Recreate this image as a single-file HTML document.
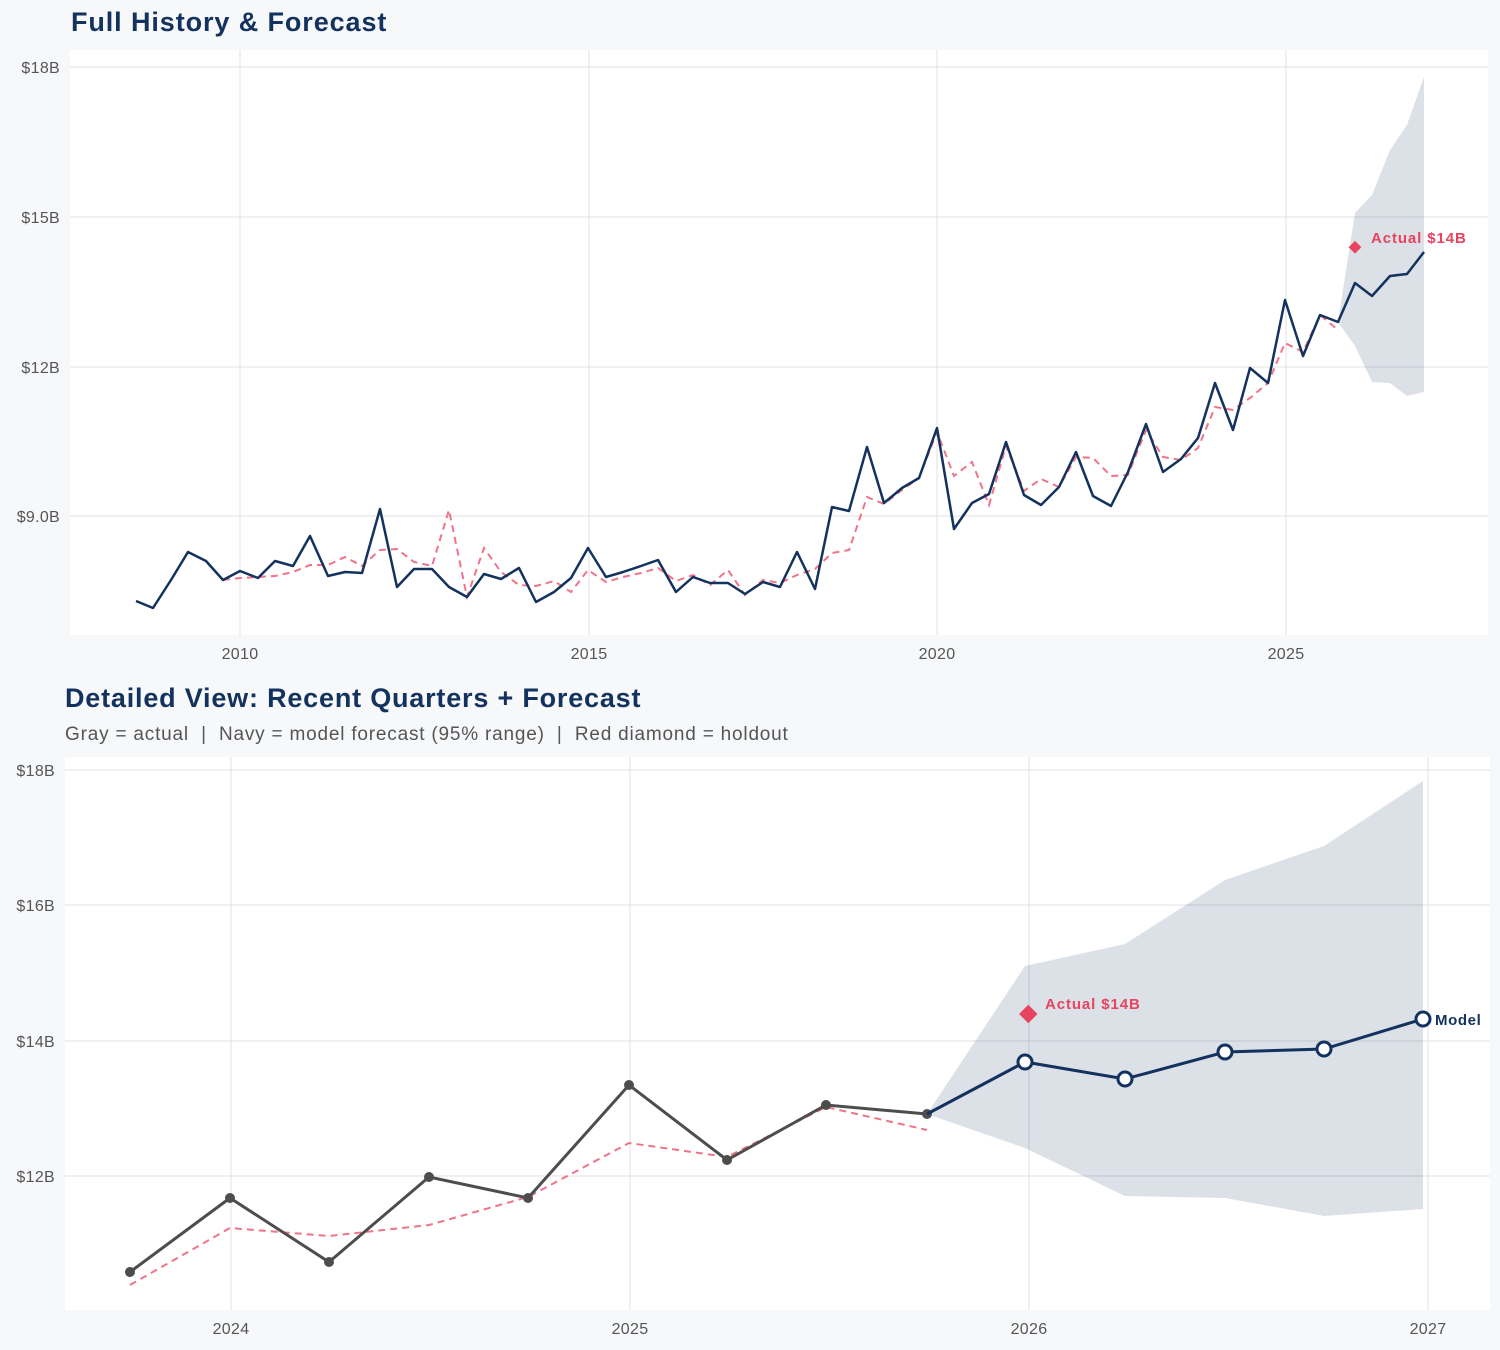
<!DOCTYPE html>
<html><head><meta charset="utf-8"><style>
body{margin:0;background:#f7f8fa;}
svg{display:block;font-family:"Liberation Sans",sans-serif;}
</style></head><body>
<svg width="1500" height="1350" xmlns="http://www.w3.org/2000/svg">
<rect width="1500" height="1350" fill="#f7f8fa"/>
<text x="71" y="31" font-size="27" font-weight="bold" letter-spacing="0.9" fill="#13325e">Full History &amp; Forecast</text>
<rect x="70" y="50" width="1418" height="585" fill="#fff"/>
<g stroke="#e0e0e0" stroke-width="1">
<line x1="70" x2="1488" y1="67" y2="67"/><line x1="70" x2="1488" y1="217" y2="217"/><line x1="70" x2="1488" y1="367" y2="367"/><line x1="70" x2="1488" y1="516" y2="516"/>
<line x1="240" x2="240" y1="50" y2="635"/><line x1="589" x2="589" y1="50" y2="635"/><line x1="937" x2="937" y1="50" y2="635"/><line x1="1286" x2="1286" y1="50" y2="635"/>
</g>
<g font-size="16" fill="#555" text-anchor="end" letter-spacing="0.3">
<text x="60" y="73">$18B</text><text x="60" y="223">$15B</text><text x="60" y="373">$12B</text><text x="60" y="522">$9.0B</text>
</g>
<g font-size="16" fill="#555" text-anchor="middle" letter-spacing="0.3">
<text x="240" y="659">2010</text><text x="589" y="659">2015</text><text x="937" y="659">2020</text><text x="1286" y="659">2025</text>
</g>
<polygon fill="#13325e" fill-opacity="0.15" points="1338,322 1355,213 1372,195 1390,150 1407,125 1424,77 1424,392 1407,396 1390,383 1372,382 1355,346"/>
<polyline fill="none" stroke="#ef7489" stroke-width="2" stroke-dasharray="7,5" points="223,580 240,578 258,577 275,576 293,572 310,565 328,565 345,557 362,566 380,550 397,549 414,562 432,566 449,510 467,597 484,548 501,572 519,585 536,586 554,581 571,592 588,570 606,582 623,577 641,573 658,568 676,581 693,575 710,585 728,570 745,595 763,580 780,583 797,575 815,569 832,553 849,550 867,497 884,504 902,490 919,478 937,432 954,476 972,462 989,505 1006,446 1024,491 1041,479 1059,487 1076,457 1093,458 1111,476 1128,475 1146,430 1163,457 1181,460 1198,448 1215,407 1233,410 1250,398 1268,383 1285,343 1303,352 1320,315 1338,330"/>
<polyline fill="none" stroke="#13325e" stroke-width="2.5" stroke-linejoin="round" points="136,601 153,608 171,580 188,552 206,561 223,580 240,571 258,578 275,561 293,566 310,536 328,576 345,572 362,573 380,509 397,587 414,569 432,569 449,587 467,597 484,574 501,579 519,568 536,602 554,592 571,578 588,548 606,577 623,572 641,566 658,560 676,592 693,577 710,583 728,583 745,594 763,582 780,587 797,552 815,589 832,507 849,511 867,447 884,503 902,488 919,478 937,428 954,529 972,503 989,494 1006,442 1024,495 1041,505 1059,487 1076,452 1093,496 1111,506 1128,472 1146,424 1163,472 1181,459 1198,438 1215,383 1233,430 1250,368 1268,383 1285,300 1303,356 1320,315 1338,322 1355,283 1372,296 1390,276 1407,274 1424,252"/>
<rect x="1350" y="243" width="9" height="9" fill="#e8435f" transform="rotate(45 1355 248)"/>
<text x="1371" y="243" font-size="15" font-weight="bold" letter-spacing="0.9" fill="#e8435f">Actual $14B</text>

<text x="65" y="707" font-size="27" font-weight="bold" letter-spacing="0.8" fill="#13325e">Detailed View: Recent Quarters + Forecast</text>
<text x="65" y="740" font-size="19" letter-spacing="0.8" fill="#555" xml:space="preserve">Gray = actual  |  Navy = model forecast (95% range)  |  Red diamond = holdout</text>
<rect x="65" y="757" width="1425" height="553" fill="#fff"/>
<g stroke="#e0e0e0" stroke-width="1">
<line x1="65" x2="1490" y1="770" y2="770"/><line x1="65" x2="1490" y1="905" y2="905"/><line x1="65" x2="1490" y1="1041" y2="1041"/><line x1="65" x2="1490" y1="1176" y2="1176"/>
<line x1="231" x2="231" y1="757" y2="1310"/><line x1="630" x2="630" y1="757" y2="1310"/><line x1="1029" x2="1029" y1="757" y2="1310"/><line x1="1428" x2="1428" y1="757" y2="1310"/>
</g>
<g font-size="16" fill="#555" text-anchor="end" letter-spacing="0.3">
<text x="55" y="776">$18B</text><text x="55" y="911">$16B</text><text x="55" y="1047">$14B</text><text x="55" y="1182">$12B</text>
</g>
<g font-size="16" fill="#555" text-anchor="middle" letter-spacing="0.3">
<text x="231" y="1334">2024</text><text x="630" y="1334">2025</text><text x="1029" y="1334">2026</text><text x="1428" y="1334">2027</text>
</g>
<polygon fill="#13325e" fill-opacity="0.15" points="927,1114 1025,966 1125,944 1225,880 1324,846 1423,781 1423,1209 1324,1216 1225,1198 1125,1196 1025,1148"/>
<polyline fill="none" stroke="#ef7489" stroke-width="2" stroke-dasharray="7,5" points="130,1285 230,1228 329,1236 429,1225 528,1197 629,1143 727,1157 826,1107 927,1130"/>
<polyline fill="none" stroke="#4d4d4d" stroke-width="3" points="130,1272 230,1198 329,1262 429,1177 528,1198 629,1085 727,1160 826,1105 927,1114"/>
<g fill="#4d4d4d"><circle cx="130" cy="1272" r="5"/><circle cx="230" cy="1198" r="5"/><circle cx="329" cy="1262" r="5"/><circle cx="429" cy="1177" r="5"/><circle cx="528" cy="1198" r="5"/><circle cx="629" cy="1085" r="5"/><circle cx="727" cy="1160" r="5"/><circle cx="826" cy="1105" r="5"/><circle cx="927" cy="1114" r="5"/></g>
<polyline fill="none" stroke="#13325e" stroke-width="3" points="927,1114 1025,1062 1125,1079 1225,1052 1324,1049 1423,1019"/>
<g fill="#fff" stroke="#13325e" stroke-width="3"><circle cx="1025" cy="1062" r="7"/><circle cx="1125" cy="1079" r="7"/><circle cx="1225" cy="1052" r="7"/><circle cx="1324" cy="1049" r="7"/><circle cx="1423" cy="1019" r="7"/></g>
<rect x="1022" y="1008" width="13" height="13" fill="#e8435f" transform="rotate(45 1029 1014)"/>
<text x="1045" y="1009" font-size="15" font-weight="bold" letter-spacing="0.9" fill="#e8435f">Actual $14B</text>
<text x="1435" y="1025" font-size="15" font-weight="bold" letter-spacing="0.6" fill="#13325e">Model</text>
</svg>
</body></html>
